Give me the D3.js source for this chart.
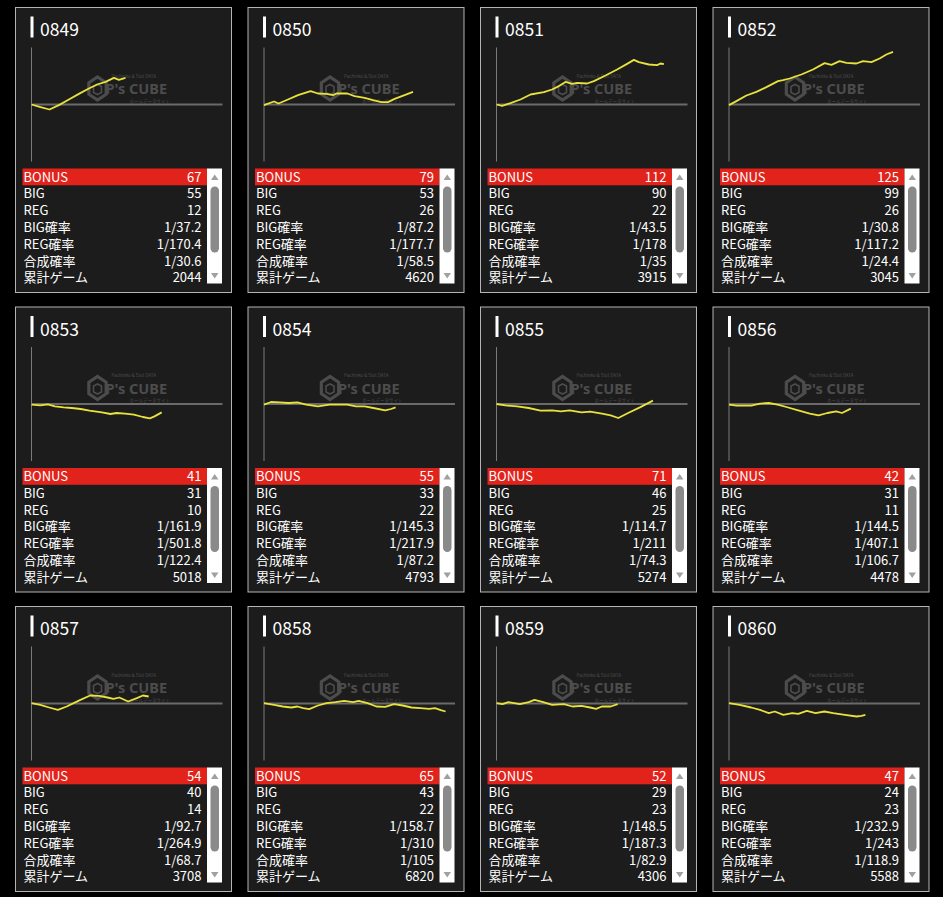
<!DOCTYPE html>
<html>
<head>
<meta charset="utf-8">
<script src="https://cdn.jsdelivr.net/npm/d3@7"></script>
<style>
  body { margin: 0; background: #000; }
  text { font-family: "Noto Sans CJK JP", "Noto Sans", sans-serif; }
</style>
</head>
<body>
<svg id="mysvg"></svg>
<script>
// machine numbers and stats table
const machines = ["0849", "0850", "0851", "0852", "0853", "0854", "0855", "0856", "0857", "0858", "0859", "0860"];
const bonus = [67, 79, 112, 125, 41, 55, 71, 42, 54, 65, 52, 47];
const big = [55, 53, 90, 99, 31, 33, 46, 31, 40, 43, 29, 24];
const reg = [12, 26, 22, 26, 10, 22, 25, 11, 14, 22, 23, 23];
const bigRate = ["1/37.2", "1/87.2", "1/43.5", "1/30.8", "1/161.9", "1/145.3", "1/114.7", "1/144.5", "1/92.7", "1/158.7", "1/148.5", "1/232.9"];
const regRate = ["1/170.4", "1/177.7", "1/178", "1/117.2", "1/501.8", "1/217.9", "1/211", "1/407.1", "1/264.9", "1/310", "1/187.3", "1/243"];
const totalRate = ["1/30.6", "1/58.5", "1/35", "1/24.4", "1/122.4", "1/87.2", "1/74.3", "1/106.7", "1/68.7", "1/105", "1/82.9", "1/118.9"];
const games = [2044, 4620, 3915, 3045, 5018, 4793, 5274, 4478, 3708, 6820, 4306, 5588];
const rowLabels = ["BONUS", "BIG", "REG", "BIG確率", "REG確率", "合成確率", "累計ゲーム"];

// medal difference curves: [game, diff]
const s0849 = [[0,0],[450,-130],[900,-250],[1370,-30],[1870,250],[2370,530],[2870,800],[3280,1000],[3700,1130],[4120,1330],[4370,1230],[4700,1330]];
const s0850 = [[0,-30],[500,150],[730,50],[1200,250],[1700,470],[2330,670],[2700,550],[3120,530],[3450,470],[3620,550],[4170,550],[4530,420],[5030,330],[5450,220],[5870,120],[6200,120],[6530,280],[7030,470],[7450,630]];
const s0851 = [[0,0],[280,-70],[700,70],[1200,250],[1700,500],[2370,620],[2780,750],[3120,920],[3450,1130],[3780,1030],[4030,1080],[4530,1050],[4870,1170],[5450,1450],[6030,1750],[6530,2030],[6870,2230],[7120,2120],[7620,2000],[8030,1970],[8200,2050],[8370,2020]];
const s0852 = [[0,-30],[370,170],[870,450],[1370,630],[1870,870],[2450,1170],[2700,1220],[3030,1300],[3620,1500],[4200,1750],[4780,2070],[5120,1980],[5530,2170],[5870,2080],[6370,2050],[6700,2170],[7030,2130],[7120,2120],[7530,2300],[7870,2500],[8200,2630]];
const s0853 = [[0,-30],[440,-70],[820,-20],[1170,-120],[1610,-170],[2020,-200],[2460,-250],[2900,-330],[3520,-420],[3950,-500],[4250,-450],[4680,-480],[5120,-530],[5570,-650],[5920,-720],[6150,-620],[6510,-420]];
const s0854 = [[0,-30],[350,100],[790,80],[1230,50],[1670,80],[2110,-30],[2700,-120],[3280,-30],[3720,-30],[4160,-30],[4600,-120],[5030,-120],[5470,-200],[6060,-320],[6350,-250],[6580,-170]];
const s0855 = [[0,0],[440,-70],[1030,-120],[1610,-200],[2200,-330],[2780,-320],[3220,-370],[3660,-320],[4250,-420],[4680,-380],[5270,-480],[5710,-570],[6090,-700],[6580,-450],[7170,-170],[7820,170]];
const s0856 = [[0,-30],[380,-80],[1110,-80],[1550,20],[1990,50],[2430,-30],[2870,-150],[3460,-320],[4040,-480],[4480,-570],[4920,-450],[5360,-370],[5650,-450],[6090,-230]];
const s0857 = [[0,20],[440,-70],[880,-200],[1320,-320],[1760,-150],[2340,130],[2930,400],[3370,380],[3800,300],[4100,230],[4390,300],[4830,100],[5270,270],[5570,400],[5860,350]];
const s0858 = [[0,20],[500,-70],[940,-150],[1370,-200],[1670,-150],[1960,-230],[2260,-280],[2700,-100],[3130,20],[3570,70],[4010,130],[4450,70],[4740,130],[5180,20],[5620,-150],[6060,-170],[6500,-30],[6940,-100],[7380,-200],[7820,-230],[8260,-270],[8550,-230],[8840,-330],[9080,-400]];
const s0859 = [[0,20],[300,-30],[590,70],[1170,-30],[1610,70],[1900,180],[2340,70],[2780,-70],[3370,-30],[3800,-150],[4250,-120],[4680,-200],[4980,-270],[5270,-150],[5710,-150],[6060,-30]];
const s0860 = [[0,20],[530,-70],[1110,-200],[1550,-320],[1990,-480],[2290,-400],[2720,-570],[3160,-480],[3460,-520],[3890,-370],[4330,-480],[4770,-400],[5210,-480],[5800,-570],[6380,-650],[6620,-620],[6820,-570]];
const series = [s0849, s0850, s0851, s0852, s0853, s0854, s0855, s0856, s0857, s0858, s0859, s0860];

const width = 943, height = 897;
const panelW = 216, panelH = 285;
const colStep = 232.5, rowStep = 299.5;

const svg = d3.select("#mysvg")
  .attr("width", width)
  .attr("height", height)
  .style("display", "block")
  .style("background", "#000");

// Set the scales (shared by every panel)
const x_Scale = d3.scaleLinear().domain([0, 9550]).range([16, 207]);
const y_Scale = d3.scaleLinear().domain([-2850, 2850]).range([154, 40]);

const lineGenerator = d3.line()
  .x(d => x_Scale(d[0]))
  .y(d => y_Scale(d[1]));

const rowH = 16.8, tableTop = 161;

machines.forEach(function(m, i) {
  const col = i % 4, row = Math.floor(i / 4);
  const g = svg.append("g")
    .attr("transform", `translate(${15.5 + col * colStep},${7.5 + row * rowStep})`);

  g.append("rect")
    .attr("width", panelW).attr("height", panelH)
    .attr("fill", "#1c1c1c").attr("stroke", "#b4b4b4").attr("stroke-width", 1);

  // title
  g.append("rect").attr("x", 15).attr("y", 9).attr("width", 3).attr("height", 21).attr("fill", "#fff");
  g.append("text").attr("x", 24.5).attr("y", 28.5)
    .text(m).attr("fill", "#fff").style("font-size", "17.5px");

  // watermark
  const wm = g.append("g").attr("fill", "#4c4c4c").attr("stroke", "#4c4c4c");
  const hex = d3.range(6).map(k => {
    const a = Math.PI / 3 * k + Math.PI / 6;
    return [82 + 10 * Math.cos(a), 81 + 11.5 * Math.sin(a)];
  });
  wm.append("path").attr("d", "M" + hex.join("L") + "Z")
    .attr("fill", "none").attr("stroke-width", 3.2);
  wm.append("path").attr("d", "M78,79 L82,77 L86,79 L86,85 L82,87 L78,85 Z")
    .attr("fill", "none").attr("stroke-width", 1.6);
  wm.append("text").attr("x", 90).attr("y", 86.5)
    .text("P's CUBE").attr("stroke", "none")
    .style("font-size", "14.5px").style("font-weight", "bold").style("font-family", "'Noto Sans', sans-serif");
  wm.append("text").attr("x", 96).attr("y", 70)
    .text("Pachinko & Slot DATA").attr("stroke", "none").style("font-size", "4.5px");
  wm.append("text").attr("x", 114).attr("y", 95)
    .text("ホールデータサイト").attr("stroke", "none").style("font-size", "4.5px");

  // axes
  g.append("line").attr("x1", x_Scale(0)).attr("x2", x_Scale(0))
    .attr("y1", y_Scale.range()[1]).attr("y2", y_Scale.range()[0])
    .attr("stroke", "#7a7a7a").attr("stroke-width", 1);
  g.append("line").attr("x1", x_Scale(0)).attr("x2", x_Scale.range()[1])
    .attr("y1", y_Scale(0)).attr("y2", y_Scale(0))
    .attr("stroke", "#6a6a6a").attr("stroke-width", 2);

  g.append("path").datum(series[i])
    .attr("d", lineGenerator)
    .attr("fill", "none").attr("stroke", "#e9e23c").attr("stroke-width", 1.8)
    .attr("stroke-linejoin", "round");

  // stats table
  const values = [bonus[i], big[i], reg[i], bigRate[i], regRate[i], totalRate[i], games[i]];
  g.append("rect").attr("x", 7).attr("y", tableTop).attr("width", 184.5).attr("height", rowH)
    .attr("fill", "#e1231c");
  rowLabels.forEach(function(lab, k) {
    const yb = tableTop + k * rowH + 13;
    g.append("text").attr("x", 8).attr("y", yb).text(lab)
      .attr("fill", "#fff").style("font-size", "13px");
    g.append("text").attr("x", 186).attr("y", yb).text(values[k])
      .attr("text-anchor", "end").attr("fill", "#fff").style("font-size", "13px");
  });

  // scrollbar
  g.append("rect").attr("x", 191.5).attr("y", tableTop).attr("width", 15).attr("height", 115).attr("fill", "#fff");
  g.append("rect").attr("x", 195).attr("y", 179).attr("width", 8.5).attr("height", 66).attr("rx", 4.2)
    .attr("fill", "#8a8a8a");
  g.append("path").attr("d", "M195.5,172.5 L199.2,167 L203,172.5 Z").attr("fill", "#a0a0a0");
  g.append("path").attr("d", "M195.5,265.5 L199.2,271 L203,265.5 Z").attr("fill", "#a0a0a0");
});
</script>
</body>
</html>
